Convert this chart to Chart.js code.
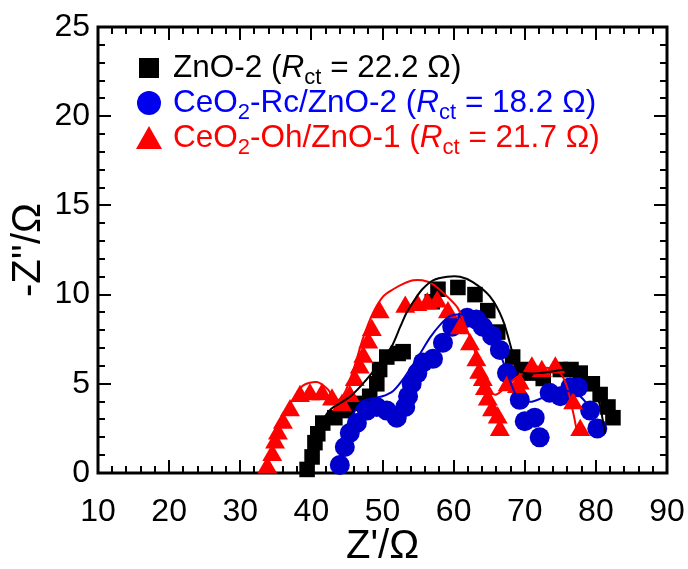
<!DOCTYPE html>
<html>
<head>
<meta charset="utf-8">
<script src="https://cdn.jsdelivr.net/npm/chart.js@4/dist/chart.umd.min.js"></script>
<style>
  html, body { margin: 0; padding: 0; background: #fff; }
  #wrap { position: relative; width: 688px; height: 569px; }
  .legend { position: absolute; left: 0; top: 0; font-family: "Liberation Sans", Arial, sans-serif; font-size: 31.5px; }
  .row { position: absolute; left: 173px; line-height: 30px; white-space: nowrap; }
  .row sub { font-size: 22px; vertical-align: -7px; line-height: 0; }
  .mk { position: absolute; }
  .sq { width: 20px; height: 20px; background: #000; }
  .ci { width: 24px; height: 24px; border-radius: 50%; background: #0000ee; }
  .tr { width: 0; height: 0; border-left: 13px solid transparent; border-right: 13px solid transparent; border-bottom: 23px solid #ff0000; }
</style>
</head>
<body>
<div id="wrap">
  <canvas id="nyquist"></canvas>
  <div class="legend">
    <div class="mk sq" style="left:139px; top:58px;"></div>
    <div class="row" style="top:51px; color:#000;">ZnO-2 (<i>R</i><sub>ct</sub> = 22.2 Ω)</div>
    <div class="mk ci" style="left:137px; top:91px;"></div>
    <div class="row" style="top:86px; color:#0000ff;">CeO<sub>2</sub>-Rc/ZnO-2 (<i>R</i><sub>ct</sub> = 18.2 Ω)</div>
    <div class="mk tr" style="left:136px; top:126px;"></div>
    <div class="row" style="top:121px; color:#ff0000;">CeO<sub>2</sub>-Oh/ZnO-1 (<i>R</i><sub>ct</sub> = 21.7 Ω)</div>
  </div>
</div>
<script>
// Axis ranges and ticks
const xMin = 10, xMax = 90, xStep = 10, xMinor = 2;
const yMin = 0, yMax = 25, yStep = 5, yMinor = 1;

// ZnO-2 measured points
const znoX = [39.4, 40.1, 40.5, 40.9, 41.6, 43.3, 45.0, 46.1, 48.2, 49.2, 49.6, 50.6, 52.2, 52.9, 57.0, 57.8, 60.6, 63.0, 64.8, 66.2, 68.3, 69.5, 70.7, 72.6, 75.0, 76.5, 77.8, 79.5, 80.6, 81.7, 82.4];
const znoY = [0.2, 0.9, 1.7, 2.2, 2.8, 3.1, 3.5, 3.9, 4.3, 5.0, 5.8, 6.5, 6.7, 6.8, 9.6, 10.3, 10.4, 10.0, 9.1, 7.9, 6.5, 5.8, 5.6, 5.3, 5.8, 5.8, 5.6, 5.0, 4.4, 3.7, 3.1];

// CeO2-Rc/ZnO-2 measured points
const rcX = [44.0, 44.7, 45.4, 46.4, 47.8, 49.2, 50.6, 52.0, 53.2, 53.6, 54.1, 54.9, 55.7, 57.1, 58.5, 59.8, 61.9, 63.2, 64.1, 65.4, 66.5, 67.5, 69.3, 70.0, 71.4, 72.1, 73.5, 75.0, 76.4, 77.5, 79.2, 80.2];
const rcY = [0.45, 1.46, 2.24, 2.8, 3.5, 3.7, 3.5, 3.1, 3.7, 4.3, 5.0, 5.6, 6.2, 6.4, 7.3, 8.2, 8.7, 8.6, 8.2, 7.7, 6.9, 5.6, 4.1, 2.9, 3.1, 2.0, 4.5, 4.3, 4.8, 4.8, 3.5, 2.5];

// CeO2-Oh/ZnO-1 measured points
const ohX = [33.8, 34.5, 34.9, 35.3, 36.0, 37.0, 38.4, 39.8, 41.5, 42.9, 44.3, 45.4, 46.1, 46.8, 47.3, 48.0, 48.5, 49.6, 53.2, 54.9, 56.3, 57.7, 59.2, 60.9, 62.3, 63.2, 63.6, 64.1, 64.4, 64.8, 65.4, 66.2, 66.5, 67.6, 68.9, 69.3, 71.0, 72.4, 74.3, 76.8, 77.8];
const ohY = [0.3, 1.0, 1.7, 2.2, 2.8, 3.5, 4.3, 4.4, 4.4, 4.1, 3.8, 4.3, 5.2, 5.9, 6.5, 7.3, 8.0, 9.0, 9.3, 9.4, 9.5, 9.6, 9.0, 8.1, 7.2, 6.3, 5.6, 5.2, 4.7, 4.1, 3.5, 3.1, 2.4, 4.9, 4.8, 5.0, 5.9, 5.7, 5.9, 3.9, 2.4];

// Fitted curves
const znoFitX = [39.8, 40.3, 41.0, 41.8, 42.8, 44.0, 45.5, 47.0, 48.5, 50.0, 51.3, 52.5, 53.4, 54.5, 55.6, 57.1, 59.1, 60.9, 62.7, 65.1, 66.9, 68.3, 68.9, 70.0, 72.0, 74.0, 76.0, 78.0, 79.5, 80.5, 81.3];
const znoFitY = [0.3, 1.4, 2.4, 3.1, 3.6, 3.9, 4.3, 4.9, 5.6, 6.4, 7.1, 8.2, 9.0, 9.7, 10.3, 10.8, 11.0, 11.0, 10.7, 9.9, 8.6, 6.7, 5.8, 5.6, 5.6, 5.7, 5.8, 5.6, 4.9, 3.9, 2.2];
const rcFitX = [43.8, 44.3, 45.0, 46.0, 47.1, 48.7, 50.0, 51.5, 52.8, 54.0, 55.3, 56.7, 58.1, 59.5, 61.0, 62.5, 64.0, 65.5, 66.8, 67.8, 68.6, 69.5, 71.0, 73.0, 75.0, 77.0, 78.5, 79.5, 80.2];
const rcFitY = [0.3, 1.4, 2.5, 3.4, 4.0, 4.2, 4.3, 4.6, 5.2, 5.9, 6.7, 7.6, 8.3, 8.8, 8.9, 8.8, 8.3, 7.5, 6.4, 5.3, 4.5, 4.1, 4.0, 4.3, 4.6, 4.5, 4.0, 3.2, 2.4];
const ohFitX = [33.8, 34.4, 35.2, 36.2, 37.4, 38.8, 40.8, 42.3, 43.0, 43.8, 44.8, 46.0, 47.3, 48.7, 50.1, 51.5, 52.9, 54.3, 55.6, 57.0, 58.8, 60.5, 61.3, 62.4, 63.4, 64.1, 65.0, 66.0, 67.5, 69.0, 70.7, 72.5, 74.5, 75.8, 76.8, 77.3];
const ohFitY = [0.2, 1.3, 2.4, 3.4, 4.1, 4.9, 5.1, 4.7, 4.3, 4.1, 4.6, 5.9, 7.6, 9.0, 9.9, 10.3, 10.6, 10.8, 10.8, 10.6, 10.0, 9.3, 8.6, 7.5, 6.3, 5.2, 4.6, 4.4, 4.9, 5.4, 5.8, 5.9, 5.8, 5.0, 3.4, 2.4];

const BLACK = '#000000';
const BLUE = '#0000cc';
const RED = '#ff0000';

function pts(xs, ys) {
  return xs.map((x, i) => ({ x: x, y: ys[i] }));
}

// Box frame with inward major/minor ticks on all four sides
const frame = {
  id: 'frame',
  beforeDatasetsDraw(chart) {
    const { ctx, chartArea: a, scales: { x, y } } = chart;
    ctx.save();
    ctx.strokeStyle = '#000';
    ctx.lineWidth = 2;
    ctx.beginPath();
    for (let v = xMin; v <= xMax; v += xMinor) {
      const px = Math.round(x.getPixelForValue(v));
      const len = v % xStep === 0 ? 13 : 7;
      ctx.moveTo(px, a.bottom); ctx.lineTo(px, a.bottom - len);
      ctx.moveTo(px, a.top); ctx.lineTo(px, a.top + len);
    }
    for (let v = yMin; v <= yMax; v += yMinor) {
      const py = Math.round(y.getPixelForValue(v));
      const len = v % yStep === 0 ? 13 : 7;
      ctx.moveTo(a.left, py); ctx.lineTo(a.left + len, py);
      ctx.moveTo(a.right, py); ctx.lineTo(a.right - len, py);
    }
    ctx.stroke();
    ctx.lineWidth = 3;
    ctx.strokeRect(a.left, a.top, a.right - a.left, a.bottom - a.top);
    ctx.restore();
  }
};

const tickFont = { family: '"Liberation Sans", Arial, sans-serif', size: 32 };
const titleFont = { family: '"Liberation Sans", Arial, sans-serif', size: 40, lineHeight: 1.1 };

new Chart(document.getElementById('nyquist'), {
  type: 'scatter',
  data: {
    datasets: [
      { label: 'ZnO-2 fit', type: 'line', data: pts(znoFitX, znoFitY), borderColor: BLACK, borderWidth: 2, pointRadius: 0, tension: 0.3, order: 0, clip: false },
      { label: 'CeO2-Rc fit', type: 'line', data: pts(rcFitX, rcFitY), borderColor: BLUE, borderWidth: 2, pointRadius: 0, tension: 0.3, order: 0, clip: false },
      { label: 'CeO2-Oh fit', type: 'line', data: pts(ohFitX, ohFitY), borderColor: RED, borderWidth: 2, pointRadius: 0, tension: 0.3, order: 0, clip: false },
      { label: 'CeO2-Oh/ZnO-1', data: pts(ohX, ohY), pointStyle: 'triangle', pointRadius: 11.5, backgroundColor: RED, borderColor: RED, borderWidth: 0, order: 1, clip: false },
      { label: 'CeO2-Rc/ZnO-2', data: pts(rcX, rcY), pointStyle: 'circle', pointRadius: 10, backgroundColor: BLUE, borderColor: BLUE, borderWidth: 0, order: 2, clip: false },
      { label: 'ZnO-2', data: pts(znoX, znoY), pointStyle: 'rect', pointRadius: 11, backgroundColor: BLACK, borderColor: BLACK, borderWidth: 0, order: 3, clip: false }
    ]
  },
  options: {
    responsive: true,
    maintainAspectRatio: false,
    animation: false,
    events: [],
    layout: { padding: { top: 27, right: 21, left: 0, bottom: 0 } },
    plugins: { legend: { display: false }, tooltip: { enabled: false } },
    scales: {
      x: {
        type: 'linear', min: xMin, max: xMax,
        grid: { display: false, drawTicks: false },
        border: { display: false },
        ticks: { stepSize: xStep, font: tickFont, color: '#000', padding: 20, maxRotation: 0 },
        title: { display: true, text: "Z'/Ω", font: titleFont, color: '#000', padding: 0 },
        afterFit(scale) { scale.height = 96; scale.paddingLeft = 0; scale.paddingRight = 0; }
      },
      y: {
        type: 'linear', min: yMin, max: yMax,
        grid: { display: false, drawTicks: false },
        border: { display: false },
        ticks: { stepSize: yStep, font: tickFont, color: '#000', padding: 8 },
        title: { display: true, text: "-Z''/Ω", font: titleFont, color: '#000', padding: { top: 7, bottom: 0 } },
        afterFit(scale) { scale.width = 98; scale.paddingTop = 0; scale.paddingBottom = 0; }
      }
    }
  },
  plugins: [frame]
});
</script>
</body>
</html>
